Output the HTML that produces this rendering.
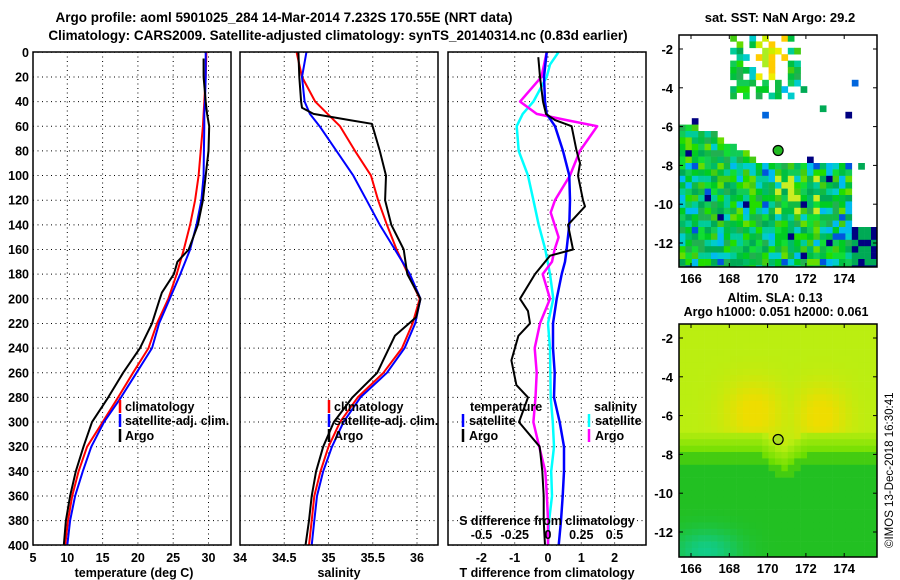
<!DOCTYPE html>
<html><head><meta charset="utf-8">
<style>
html,body{margin:0;padding:0;background:#fff;}
svg{display:block;font-family:"Liberation Sans",Arial,sans-serif;font-weight:bold;}
text{font-size:12.5px;fill:#000;}
</style></head>
<body>
<svg id="chart" width="900" height="580" viewBox="0 0 900 580" xmlns="http://www.w3.org/2000/svg">
<text x="284" y="22" text-anchor="middle" style="font-size:13.5px">Argo profile: aoml 5901025_284 14-Mar-2014 7.232S 170.55E (NRT data)</text>
<text x="338" y="40" text-anchor="middle" style="font-size:13.5px">Climatology: CARS2009. Satellite-adjusted climatology: synTS_20140314.nc (0.83d earlier)</text>
<text x="780" y="22" text-anchor="middle" style="font-size:13px">sat. SST: NaN Argo: 29.2</text>
<text x="775" y="302" text-anchor="middle">Altim. SLA: 0.13</text>
<text x="776" y="316" text-anchor="middle">Argo h1000: 0.051 h2000: 0.061</text>
<text transform="translate(893,548) rotate(-90)" style="font-size:11.5px;font-weight:normal">©IMOS 13-Dec-2018 16:30:41</text>
<g id="plots"></g>
</svg>
<script>
// ---------- data ----------
const depths = [0,20,40,50,60,80,100,120,140,160,180,200,220,240,260,280,300,320,340,360,380,400];
const tempClim = [29.7,29.6,29.4,29.3,29.2,28.9,28.6,28.1,27.4,26.5,25.5,24.3,22.7,21.5,19.3,17.2,15.0,12.8,11.6,10.7,10.1,9.7];
const tempSat  = [29.6,29.6,29.5,29.4,29.4,29.35,29.3,29.0,28.3,27.4,26.0,24.5,23.0,22.0,19.8,17.6,15.2,13.4,12.2,11.1,10.4,10.0];
const tempArgoDepths = [5,20,40,50,60,80,100,120,140,160,170,180,195,200,220,240,260,280,300,320,340,360,380,400];
const tempArgo = [29.3,29.3,29.6,29.8,30.1,30.0,29.6,29.2,28.5,27.2,25.6,25.1,23.4,23.1,22.0,20.3,17.9,15.8,13.5,12.3,11.2,10.4,9.8,9.5];
const salClim = [34.64,34.70,34.85,34.99,35.13,35.30,35.48,35.56,35.66,35.77,35.90,36.03,35.95,35.83,35.62,35.33,35.13,35.00,34.91,34.84,34.81,34.78];
const salSat  = [34.75,34.70,34.73,34.79,34.90,35.09,35.28,35.43,35.58,35.75,35.92,36.04,35.98,35.86,35.66,35.36,35.17,35.04,34.94,34.87,34.84,34.81];
const salArgoDepths = [0,20,40,45,50,55,58,80,100,120,140,160,180,200,215,230,260,280,300,320,340,360,380,400];
const salArgo = [34.66,34.67,34.69,34.70,34.83,35.24,35.49,35.58,35.65,35.64,35.71,35.85,35.89,36.04,35.99,35.75,35.55,35.27,35.06,34.94,34.86,34.81,34.78,34.74];
const tdDepths = [4,20,40,50,55,60,80,90,100,120,125,140,160,165,180,200,210,220,230,250,270,280,300,320,340,360,380,400];
const tdArgo = [-0.29,-0.24,-0.15,-0.06,0.21,0.71,0.86,0.96,0.9,1.05,1.11,0.6,0.75,0.06,-0.39,-0.84,-0.6,-0.54,-0.89,-1.1,-0.95,-0.6,-0.87,-0.25,-0.17,-0.13,-0.13,-0.09];
const dDepths = [0,20,40,50,60,80,100,120,140,160,170,180,200,220,240,260,280,300,320,340,360,380,400];
const tdSat = [-0.04,-0.12,-0.09,-0.04,0.21,0.45,0.64,0.66,0.64,0.56,0.51,0.41,0.26,0.15,0.15,0.2,0.18,0.35,0.48,0.48,0.44,0.39,0.32];
const sdArgoDepths = [0,20,40,50,55,60,80,100,120,130,140,150,160,170,180,200,220,240,260,280,300,320,340,360,380,400];
const sdArgo = [-0.01,-0.05,-0.21,-0.085,0.14,0.37,0.24,0.165,0.053,0.02,0.05,0.08,0.05,0.03,-0.04,0.015,-0.06,-0.1,-0.085,-0.094,-0.11,-0.066,-0.02,-0.008,0,0];
const sdSatDepths = [0,10,20,40,50,60,80,100,120,140,160,180,200,220,240,280,300,320,340,360,380,400];
const sdSat = [0.078,0.015,-0.01,-0.11,-0.19,-0.235,-0.22,-0.15,-0.11,-0.07,-0.02,0.015,0.04,0.0,0.015,0.02,0.036,0.045,0.024,0.03,0.008,0];
const depthTicks = [0,20,40,60,80,100,120,140,160,180,200,220,240,260,280,300,320,340,360,380,400];
const tempTicks = [5,10,15,20,25,30];
const salTicks = [34,34.5,35,35.5,36];
const tdTicks = [-2,-1,0,1,2];
const sdTicks = [-0.5,-0.25,0,0.25,0.5];
const lonTicks = [166,168,170,172,174];
const latTicks = [-2,-4,-6,-8,-10,-12];
const argoLon = [170.55];
const argoLat = [-7.232];

// ---------- helpers ----------
const NS='http://www.w3.org/2000/svg';
const root=document.getElementById('plots');
function mk(tag,attrs,parent){const e=document.createElementNS(NS,tag);for(const k in attrs)e.setAttribute(k,attrs[k]);(parent||root).appendChild(e);return e;}
const Y0=52.3, YS=1.2325;
const yD=d=>Y0+d*YS;
const xT=t=>32+(t-5)*7.06;
const xS=s=>240+(s-34)*88.5;
const xTD=v=>548+v*33.3;
const xSD=v=>548+v*133;

function panel(x0,name){
  const g=mk('g',{});
  
  
  return g;
}
function gridH(g,x0,x1){
  depthTicks.forEach(d=>{
    const l=mk('line',{x1:x0,x2:x1,y1:yD(d),y2:yD(d),stroke:'#000','stroke-width':1,'stroke-dasharray':'1,3.5'},g);
    
    
  });
}
function gridV(g,xs){
  xs.forEach(x=>{
    const l=mk('line',{x1:x,x2:x,y1:52,y2:545,stroke:'#000','stroke-width':1,'stroke-dasharray':'1,3.5'},g);
    
    
  });
}
function frame(g,x0,x1){
  const r=mk('rect',{x:x0,y:52,width:x1-x0,height:493,fill:'none',stroke:'#000','stroke-width':1.5},g);
  
  
}
function line(g,xs,ds,fx,col,w,name){
  const pts=xs.map((v,i)=>fx(v).toFixed(1)+','+yD(ds[i]).toFixed(1)).join(' ');
  const p=mk('polyline',{points:pts,fill:'none',stroke:col,'stroke-width':w||2,'stroke-linejoin':'round'},g);
  
  
}
function txt(g,x,y,s,anchor,name,extra){
  const t=mk('text',Object.assign({x:x,y:y,'text-anchor':anchor||'start'},extra||{}),g);
  t.textContent=s;
  
  
  return t;
}
function legBar(g,x,y,col,name){
  const l=mk('line',{x1:x,x2:x,y1:y-11,y2:y+2,stroke:col,'stroke-width':2.5},g);
  
  
}
function fmt(v){return String(v);}

// ---------- panel 1: temperature ----------
let g=panel(33,'temperature-panel');
gridH(g,33,231); gridV(g,tempTicks.slice(1).map(xT));
line(g,tempClim,depths,xT,'#ff0000',2,'temp-climatology-line');
line(g,tempSat,depths,xT,'#0000ff',2,'temp-satellite-line');
line(g,tempArgo,tempArgoDepths,xT,'#000',2,'temp-argo-line');
frame(g,33,231);
depthTicks.forEach(d=>txt(g,29,yD(d)+4.5,fmt(d),'end','y-tick-label'));
tempTicks.forEach(t=>txt(g,xT(t)+(t===5?1:0),562,fmt(t),'middle','x-tick-label'));
txt(g,134,577,'temperature (deg C)','middle','x-axis-title');
legBar(g,120,411,'#ff0000','legend-climatology-swatch'); txt(g,125,411,'climatology','start','legend-climatology');
legBar(g,120,425,'#0000ff','legend-satellite-swatch'); txt(g,125,425,'satellite-adj. clim.','start','legend-satellite');
legBar(g,120,440,'#000','legend-argo-swatch'); txt(g,125,440,'Argo','start','legend-argo');

// ---------- panel 2: salinity ----------
g=panel(240,'salinity-panel');
gridH(g,240,438); gridV(g,salTicks.slice(1).map(xS));
line(g,salClim,depths,xS,'#ff0000',2,'sal-climatology-line');
line(g,salSat,depths,xS,'#0000ff',2,'sal-satellite-line');
line(g,salArgo,salArgoDepths,xS,'#000',2,'sal-argo-line');
frame(g,240,438);
salTicks.forEach(s=>txt(g,xS(s),562,fmt(s),'middle','x-tick-label'));
txt(g,339,577,'salinity','middle','x-axis-title');
legBar(g,329,411,'#ff0000','legend-climatology-swatch'); txt(g,334,411,'climatology','start','legend-climatology');
legBar(g,329,425,'#0000ff','legend-satellite-swatch'); txt(g,334,425,'satellite-adj. clim.','start','legend-satellite');
legBar(g,329,440,'#000','legend-argo-swatch'); txt(g,334,440,'Argo','start','legend-argo');

// ---------- panel 3: differences ----------
g=panel(448,'difference-panel');
gridH(g,448,646); gridV(g,tdTicks.map(xTD));
line(g,sdSat,sdSatDepths,xSD,'#00ffff',2.5,'sal-diff-satellite-line');
line(g,sdArgo,sdArgoDepths,xSD,'#ff00ff',2.5,'sal-diff-argo-line');
line(g,tdSat,dDepths,xTD,'#0000ff',2.5,'temp-diff-satellite-line');
line(g,tdArgo,tdDepths,xTD,'#000',2,'temp-diff-argo-line');
frame(g,448,646);
tdTicks.forEach(t=>txt(g,xTD(t),562,fmt(t),'middle','x-tick-label'));
txt(g,547,577,'T difference from climatology','middle','x-axis-title');
txt(g,547,525,'S difference from climatology','middle','s-axis-title');
sdTicks.forEach(t=>txt(g,xSD(t),539,fmt(t),'middle','s-tick-label'));
txt(g,470,411,'temperature','start','legend-temperature-header');
txt(g,594,411,'salinity','start','legend-salinity-header');
legBar(g,463,425,'#0000ff','legend-tdiff-satellite-swatch'); txt(g,469,425,'satellite','start','legend-tdiff-satellite');
legBar(g,463,440,'#000','legend-tdiff-argo-swatch'); txt(g,469,440,'Argo','start','legend-tdiff-argo');
legBar(g,589,425,'#00ffff','legend-sdiff-satellite-swatch'); txt(g,595,425,'satellite','start','legend-sdiff-satellite');
legBar(g,589,440,'#ff00ff','legend-sdiff-argo-swatch'); txt(g,595,440,'Argo','start','legend-sdiff-argo');

// ---------- maps ----------
const MX0=679, MX1=877;
const lonX=l=>691+(l-166)*19.15;
function hash(i,j){let h=(i*374761393+j*668265263)^0x5bd1e995;h=(h^(h>>>13))*1274126177;h=h^(h>>>16);return ((h>>>0)%10000)/10000;}
function makeMap(top,bot,latY,name,cellFn,markerFill){
  const mg=panel(MX0,name);
  const clipId=name+'-clip';
  const cp=mk('clipPath',{id:clipId},mg);
  mk('rect',{x:MX0,y:top,width:MX1-MX0,height:bot-top},cp);
  const cg=mk('g',{'clip-path':'url(#'+clipId+')'},mg);
  mk('rect',{x:MX0,y:top,width:MX1-MX0,height:bot-top,fill:'#fff'},cg);
  const cs=6.4;
  for(let i=0;i*cs<MX1-MX0;i++){
    for(let j=0;j*cs<bot-top;j++){
      const x=MX0+i*cs,y=top+j*cs;
      const lon=166+(x+cs/2-691)/19.15;
      const lat=-2-(y+cs/2-latY(-2))/19.4;
      const c=cellFn(lon,lat,i,j);
      if(c) mk('rect',{x:x,y:y,width:cs+0.3,height:cs+0.3,fill:c},cg);
    }
  }
  const fr=mk('rect',{x:MX0,y:top,width:MX1-MX0,height:bot-top,fill:'none',stroke:'#000','stroke-width':1.5},mg);
  
  
  lonTicks.forEach(l=>{
    mk('line',{x1:lonX(l),x2:lonX(l),y1:bot,y2:bot-4,stroke:'#000'},mg);
    mk('line',{x1:lonX(l),x2:lonX(l),y1:top,y2:top+4,stroke:'#000'},mg);
    txt(mg,lonX(l),bot+16,fmt(l),'middle','map-lon-label',{style:'font-size:13px'});
  });
  latTicks.forEach(l=>{
    mk('line',{x1:MX0,x2:MX0+4,y1:latY(l),y2:latY(l),stroke:'#000'},mg);
    mk('line',{x1:MX1,x2:MX1-4,y1:latY(l),y2:latY(l),stroke:'#000'},mg);
    txt(mg,673,latY(l)+5,fmt(l),'end','map-lat-label',{style:'font-size:13px'});
  });
  argoLon.forEach((lo,k)=>{
    const m=mk('circle',{cx:lonX(lo),cy:latY(argoLat[k]),r:5,fill:markerFill,stroke:'#000','stroke-width':1.2},mg);
    
    
  });
  return mg;
}
// SST map
const sstPal=['#00cc22','#11bb44','#22dd00','#00aa55','#00cc99','#00cccc','#00bbee','#44cc11','#66dd00','#11cc55','#00bb66','#11dd33','#00c040','#22b050'];
makeMap(35,267,l=>49+(-2-l)*19.4,'sst-map',(lon,lat,i,j)=>{
  const r=hash(i,j), r2=hash(j+91,i+17);
  let bound = lon<167.5 ? -5.7-(lon-165.4)*0.35 : (lon<170 ? -6.5-(lon-167.5)*0.6 : -8.0);
  let inMass = lat<bound && !(lon>174.3 && lat>-11.3) ;
  if(lon>174.3 && lat<-11.3) return r<0.6?'#000080':'#00aa55';
  if(inMass){
    if(r2<0.02) return '#000080';
    if(r2<0.05) return '#0055dd';
    if(lat>-10.5 && lat<-8.6 && lon>170 && lon<173 && r2>0.75) return '#ccee22';
    return sstPal[Math.floor(r*sstPal.length)];
  }
  if(lon>168 && lon<171.8 && lat>-4.6 && lat<-1.3 && r<0.55){
    if(lat>-3.5 && lon>169.3 && lon<171.2) return ['#ccee00','#eeee00','#ffcc00','#aaee22'][Math.floor(r2*4)];
    return sstPal[Math.floor(r2*sstPal.length)];
  }
  if(r<0.012) return r2<0.5?'#000080':(r2<0.75?'#0066dd':'#00aa55');
  return null;
},'#22bb22');
// SLA map
function mixc(a,b,t){t=Math.max(0,Math.min(1,t));const pa=[1,3,5].map(k=>parseInt(a.substr(k,2),16)),pb=[1,3,5].map(k=>parseInt(b.substr(k,2),16));return 'rgb('+pa.map((v,k)=>Math.round(v+(pb[k]-v)*t)).join(',')+')';}
makeMap(324,557,l=>338+(-2-l)*19.4,'sla-map',(lon,lat)=>{
  const y1=Math.exp(-((lon-169.3)**2/2.5+(lat+5.8)**2/2.5));
  const y2=Math.exp(-((lon-172.8)**2/2+(lat+6.0)**2/2.5));
  let c=mixc('#bbee11','#eedd00',Math.max(y1,y2)*1.1);
  const bnd = -8.0 - Math.max(0,1.2-Math.abs(lon-170.8))*0.7;
  if(lat<bnd){
    const t=Math.exp(-((lon-166.8)**2/3+(lat+13)**2/1.2));
    c=mixc(lat>bnd-0.5?'#44cc11':'#22c022','#11cc88',t);
  } else if(lat<bnd+1.2){
    c=mixc('#66dd00','#bbee11',(lat-bnd)/1.2);
  }
  return c;
},'#aadd22');
</script>
</body></html>
